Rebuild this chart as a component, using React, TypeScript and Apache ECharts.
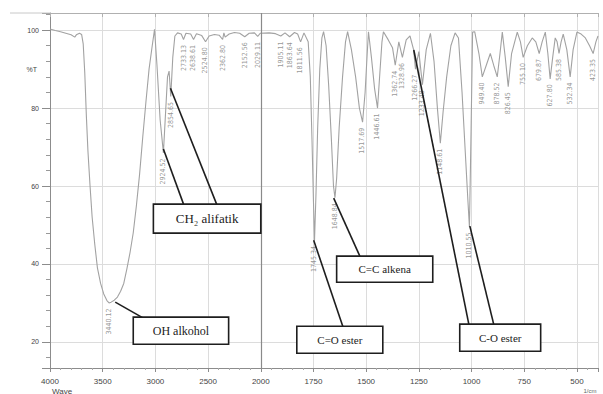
import React, { useEffect, useRef } from 'react';
import * as echarts from 'echarts';

// ---- spectrum (wavenumber cm-1, %T) ----
const specWn = [
  4000, 3950, 3900, 3850, 3800, 3765, 3750, 3720, 3700, 3685, 3670, 3655, 3640, 3620, 3600, 3575, 3550, 3520, 3490, 3460,
  3440, 3420, 3390, 3360, 3330, 3300, 3270, 3240, 3210, 3180, 3150, 3120, 3090, 3060, 3030, 3008, 2985, 2955, 2924, 2905,
  2885, 2870, 2854, 2835, 2815, 2790, 2755, 2733, 2710, 2665, 2638, 2610, 2560, 2524, 2490, 2440, 2395, 2362, 2350, 2338,
  2300, 2250, 2200, 2152, 2110, 2060, 2029, 2005, 1960, 1930, 1905, 1885, 1863, 1840, 1825, 1811, 1795, 1775, 1765, 1757,
  1750, 1745, 1738, 1730, 1720, 1710, 1702, 1690, 1678, 1665, 1655, 1648, 1640, 1628, 1612, 1598, 1588, 1570, 1550, 1532,
  1517, 1505, 1495, 1489, 1475, 1460, 1446, 1435, 1425, 1418, 1395, 1375, 1362, 1345, 1328, 1310, 1292, 1275, 1266, 1250,
  1233, 1215, 1195, 1178, 1162, 1148, 1135, 1118, 1098, 1078, 1062, 1045, 1030, 1018, 1010, 1002, 995, 985, 965, 949,
  930, 911, 895, 878, 865, 854, 840, 826, 810, 783, 768, 755, 735, 712, 695, 679, 665, 650, 638, 627,
  615, 603, 594, 585, 575, 565, 548, 532, 518, 500, 480, 460, 440, 423, 410, 400,
];
const specT = [
  100.3, 99.9, 99.6, 99.2, 98.8, 98.2, 98.8, 99.2, 98.9, 96.5, 89, 78, 69, 60, 52, 45, 39, 35, 32.3, 30.6,
  30, 30.2, 30.7, 31.5, 33, 35, 38.8, 43, 48, 55, 63, 72.5, 81.5, 90, 96, 100.2, 91, 77, 68.5, 78,
  88, 89.5, 83, 93, 98.5, 99.3, 99, 97.6, 99.2, 99, 97.6, 99.1, 98.6, 97, 98.5, 98.9, 98.7, 97.6, 99.3, 98.2,
  99, 99.4, 99.2, 98.3, 99.2, 99.3, 98.4, 99.2, 99.3, 99.1, 98.5, 99.3, 98.3, 99.4, 99, 97, 99.3, 97, 88, 72,
  56, 46, 58, 75, 90, 98, 99.6, 96, 86, 72, 60, 57, 62, 75, 88, 97, 99.6, 95, 88, 80,
  76.4, 84, 94, 99.6, 93, 85, 80, 89, 97, 99.6, 97.5, 95.5, 91, 97, 93, 97.5, 98.5, 95, 90, 94.5,
  86, 95, 99.2, 92, 80, 71, 79, 88, 96, 99.3, 98, 84, 69, 57, 49.5, 75, 99.5, 99.6, 94, 88,
  91, 94, 91, 88, 94, 99.5, 93, 85.5, 94, 99.5, 97, 93, 96, 98, 97, 94, 97, 99.5, 94, 87.5,
  93, 98, 97, 94, 97, 99, 95, 88, 95, 99.5, 99, 98, 96, 94, 97, 98.5,
];

// ---- labelled peaks ----
const peakWn = [
  3440.12, 2924.52, 2854.65, 2733.13, 2638.61, 2524.80, 2362.80, 2152.56, 2029.11, 1905.11, 1863.64, 1811.56,
  1745.34, 1648.84, 1517.69, 1446.61, 1362.74, 1328.96, 1266.27, 1233.48, 1148.61, 1010.55,
  949.40, 878.52, 826.45, 755.10, 679.87, 627.80, 585.38, 532.34, 423.35,
];
const peakT = [
  30, 68.5, 83, 97.6, 97.6, 97, 97.6, 98.3, 98.4, 98.5, 98.3, 97,
  46, 57, 76.4, 80, 91, 93, 90, 86, 71, 49.5,
  88, 88, 85.5, 93, 94, 87.5, 94, 88, 94,
];

// ---- axis tick labels (one per break-scale unit) ----
const xTickLabels = ['4000', '3500', '3000', '2500', '2000', '1750', '1500', '1250', '1000', '750', '500'];
const yTickValues = [20, 40, 60, 80, 100];

// ---- annotations (data space: wavenumber, %T) ----
const annTexts = ['CH\u2082 alifatik', 'OH alkohol', 'C=C alkena', 'C=O ester', 'C-O ester'];
// box: [wnLeft, Ttop, wnRight, Tbottom]
const annBoxes = [
  [3019, 55.35, 2000, 47.9],
  [3210, 26.35, 2305, 19.4],
  [1640, 42.0, 1184, 35.3],
  [1829, 24.0, 1421, 17.1],
  [1056, 24.55, 672, 17.6],
];
// leader lines: [wnA, TA, wnB, TB]
const annLines = [
  [[2924, 69.5, 2733, 55.35], [2857, 85.1, 2419, 55.35]],
  [[3381, 30.2, 3114, 26.1]],
  [[1654, 56.9, 1530, 42.0]],
  [[1749, 46.1, 1611, 24.0]],
  [[1274, 94.9, 1013, 24.55], [1008, 49.7, 895, 24.55]],
];
const annFontSizes = [13, 12, 11, 11, 11];

// broken x scale: 4000-2000 at 500 per unit, 2000-400 at 250 per unit
const toP = (wn: number) => (wn >= 2000 ? (4000 - wn) / 500 : 4 + (2000 - wn) / 250);

const X_MAX = 10.4;
const Y_MIN = 13.3;
const Y_MAX = 104.4;

export default function App() {
  const ref = useRef<HTMLDivElement>(null);

  useEffect(() => {
    const chart = echarts.init(ref.current as HTMLDivElement, null, { renderer: 'svg' });
    const gridColor = '#dcdcdc';
    const axisColor = '#8c8c8c';

    const option: any = {
      animation: false,
      backgroundColor: '#ffffff',
      grid: { left: 50, right: 5, top: 13, bottom: 26 },
      xAxis: [
        {
          type: 'value',
          min: 0,
          max: X_MAX,
          interval: 1,
          axisLine: { show: true, lineStyle: { color: axisColor, width: 1 } },
          axisTick: { show: true, length: 4, lineStyle: { color: axisColor } },
          minorTick: { show: true, splitNumber: 5, length: 2, lineStyle: { color: '#aaaaaa' } },
          axisLabel: {
            margin: 9,
            fontSize: 8,
            color: '#444',
            fontFamily: 'Liberation Sans, Arial, sans-serif',
            formatter: (v: number) => {
              const i = Math.round(v);
              if (Math.abs(v - i) > 1e-6) return '';
              return xTickLabels[i] ?? '';
            },
          },
          splitLine: { show: true, lineStyle: { color: gridColor, width: 1 } },
        },
        {
          type: 'value',
          position: 'top',
          min: 0,
          max: X_MAX,
          interval: 1,
          axisLine: { show: true, lineStyle: { color: '#b0b0b0', width: 1 } },
          axisTick: { show: true, inside: true, length: 4, lineStyle: { color: '#b0b0b0' } },
          axisLabel: { show: false },
          splitLine: { show: false },
        },
      ],
      yAxis: {
        type: 'value',
        min: Y_MIN,
        max: Y_MAX,
        axisLine: { show: true, lineStyle: { color: axisColor, width: 1 } },
        axisTick: { show: true, length: 8, lineStyle: { color: axisColor } },
        minorTick: { show: true, splitNumber: 5, length: 4, lineStyle: { color: '#999' } },
        axisLabel: {
          margin: 11,
          fontSize: 7,
          color: '#444',
          fontFamily: 'Liberation Sans, Arial, sans-serif',
          formatter: (v: number) => (yTickValues.indexOf(Math.round(v * 1000) / 1000) >= 0 ? String(v) : ''),
        },
        splitLine: { show: true, lineStyle: { color: gridColor, width: 1 } },
      },
      series: [
        {
          type: 'line',
          data: specWn.map((w, i) => [toP(w), specT[i]]),
          showSymbol: false,
          symbol: 'none',
          lineStyle: { color: '#a2a2a2', width: 1.1 },
          z: 3,
          markLine: {
            silent: true,
            symbol: ['none', 'none'],
            label: { show: false },
            lineStyle: { color: '#8a8a8a', width: 1.2, type: 'solid' },
            data: [{ xAxis: toP(2000) }],
          },
        },
        {
          type: 'scatter',
          data: peakWn.map((w, i) => [toP(w), peakT[i]]),
          symbol: 'circle',
          symbolSize: 1,
          itemStyle: { color: 'rgba(0,0,0,0)' },
          z: 4,
          label: {
            show: true,
            position: 'bottom',
            distance: 5,
            rotate: 90,
            align: 'right',
            verticalAlign: 'middle',
            fontSize: 7,
            color: '#7a7a7a',
            fontFamily: '"DejaVu Sans Condensed", "Liberation Sans", sans-serif',
            formatter: (p: any) => peakWn[p.dataIndex].toFixed(2),
          },
        },
      ],
    };
    chart.setOption(option);

    const px = (wn: number, t: number) =>
      chart.convertToPixel({ xAxisIndex: 0, yAxisIndex: 0 }, [toP(wn), t]) as number[];

    const serif = '"Liberation Serif", "DejaVu Serif", "Times New Roman", serif';
    const sans = '"Liberation Sans", Arial, sans-serif';
    const elements: any[] = [];
    annTexts.forEach((txt, k) => {
      annLines[k].forEach((ln) => {
        const a = px(ln[0], ln[1]);
        const b = px(ln[2], ln[3]);
        elements.push({
          type: 'line',
          z: 100,
          shape: { x1: a[0], y1: a[1], x2: b[0], y2: b[1] },
          style: { stroke: '#1e1e1e', lineWidth: 1.6 },
        });
      });
      const bx = annBoxes[k];
      const tl = px(bx[0], bx[1]);
      const br = px(bx[2], bx[3]);
      elements.push({
        type: 'rect',
        z: 101,
        shape: { x: tl[0], y: tl[1], width: br[0] - tl[0], height: br[1] - tl[1] },
        style: { fill: '#ffffff', stroke: '#1e1e1e', lineWidth: 1.6 },
      });
      elements.push({
        type: 'text',
        z: 102,
        x: (tl[0] + br[0]) / 2,
        y: (tl[1] + br[1]) / 2,
        style: {
          text: txt,
          fill: '#222',
          fontSize: annFontSizes[k],
          fontFamily: serif,
          textAlign: 'center',
          textVerticalAlign: 'middle',
          align: 'center',
          verticalAlign: 'middle',
        },
      });
    });

    const pT = px(4000, 90);
    elements.push({
      type: 'text',
      z: 50,
      x: pT[0] - 13,
      y: pT[1],
      style: {
        text: '%T', fill: '#444', fontSize: 7, fontFamily: sans,
        textAlign: 'right', textVerticalAlign: 'middle', align: 'right', verticalAlign: 'middle',
      },
    });
    const pTop = px(4000, Y_MAX);
    elements.push({
      type: 'line',
      z: 50,
      shape: { x1: 10, y1: pTop[1], x2: pTop[0], y2: pTop[1] },
      style: { stroke: '#c8c8c8', lineWidth: 1 },
    });
    const pBot = px(4000, Y_MIN);
    elements.push({
      type: 'text',
      z: 50,
      x: pBot[0] + 2,
      y: 387,
      style: {
        text: 'Wave', fill: '#444', fontSize: 8, fontFamily: sans,
        textAlign: 'left', textVerticalAlign: 'top', align: 'left', verticalAlign: 'top',
      },
    });
    elements.push({
      type: 'text',
      z: 50,
      x: 590,
      y: 388,
      style: {
        text: '1/cm', fill: '#666', fontSize: 6, fontFamily: sans,
        textAlign: 'center', textVerticalAlign: 'top', align: 'center', verticalAlign: 'top',
      },
    });

    chart.setOption({ graphic: elements });

    return () => chart.dispose();
  }, []);

  return <div ref={ref} style={{ position: 'fixed', left: 0, top: 0, width: 603, height: 394 }} />;
}
